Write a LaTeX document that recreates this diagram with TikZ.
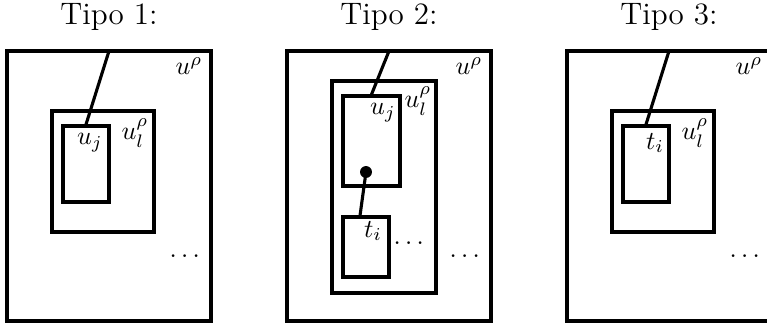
\documentclass[tikz,border=0pt]{standalone}
\usepackage{amsmath}
\usetikzlibrary{positioning}

\begin{document}
\begin{tikzpicture}[x=0.386pt, y=-0.386pt,
Bnode/.style 2 args={draw=black, line width=1.2pt, inner sep=0pt, minimum width=#1*0.386pt, minimum height=#2*0.386pt},
Dnode/.style={circle, fill=black, inner sep=0pt, minimum size=4.6pt},
Hnode/.style={font=\large},
Lline/.style={line width=1.2pt}
]
\useasboundingbox (0,0) rectangle (767,322);
%Titles
\node[Hnode] (H1) at (109,17) {Tipo 1:};
\node[Hnode] (H2) at (389,17) {Tipo 2:};
\node[Hnode] (H3) at (669,17) {Tipo 3:};
%Tipo 1
\node[Bnode={204}{270}] (O1) at (109,186) {};
\node[Bnode={102}{121}] (L1) at (103,171.5) {};
\node[Bnode={46}{76}] (U1) at (86,164) {};
\coordinate (top1) at (109,51);
\node (uo1) at (189,66) {$u^\rho$};
\node (ul1) at (135,133) {$u_l^\rho$};
\node (uj1) at (90,143) {$u_j$};
\node (dd1) at (187,256) {$\dots$};
%Tipo 2
\node[Bnode={204}{270}] (O2) at (389,186) {};
\node[Bnode={104}{212}] (L2) at (384,187) {};
\node[Bnode={57}{90}] (U2) at (371.5,141) {};
\node[Bnode={46}{60}] (T2) at (366,247) {};
\node[Dnode] (D2) at (366,172) {};
\coordinate (top2) at (389,51);
\node (uo2) at (469,66) {$u^\rho$};
\node (ul2) at (418,101) {$u_l^\rho$};
\node (uj2) at (383,113) {$u_j$};
\node (ti2) at (373,231) {$t_i$};
\node (dd2) at (411,243) {$\dots$};
\node (dd3) at (467,256) {$\dots$};
%Tipo 3
\node[Bnode={204}{270}] (O3) at (669,186) {};
\node[Bnode={102}{121}] (L3) at (663,171.5) {};
\node[Bnode={46}{76}] (T3) at (646,164) {};
\coordinate (top3) at (669,51);
\node (uo3) at (749,66) {$u^\rho$};
\node (ul3) at (695,133) {$u_l^\rho$};
\node (ti3) at (655,143) {$t_i$};
\node (dd4) at (747,256) {$\dots$};
%Lines
\draw[Lline] (top1) -- (U1.north);
\draw[Lline] (top2) -- (U2.north);
\draw[Lline] (D2.center) -- ([xshift=-2.3pt]T2.north);
\draw[Lline] (top3) -- (T3.north);
\end{tikzpicture}
\end{document}
